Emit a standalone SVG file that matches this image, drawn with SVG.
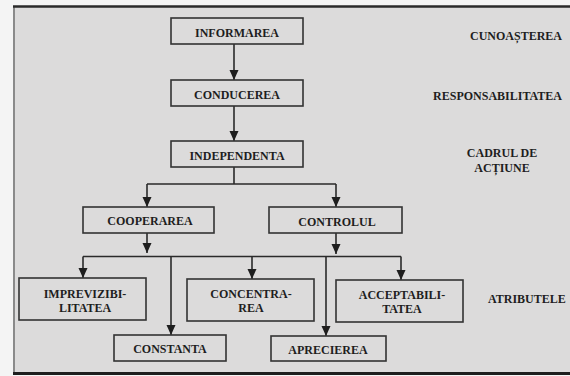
<svg xmlns="http://www.w3.org/2000/svg" width="570" height="376" viewBox="0 0 570 376">
<style>
.box{fill:none;stroke:#333;stroke-width:1.6}
.t{font-family:"Liberation Serif","Times New Roman",serif;font-weight:bold;font-size:12px;fill:#1e1e1e;text-anchor:middle}
.lbl{font-family:"Liberation Serif","Times New Roman",serif;font-weight:bold;font-size:12px;fill:#1e1e1e}
.c{fill:none;stroke:#2a2a2a;stroke-width:1.6}
</style>
<defs>
<marker id="ah" markerUnits="userSpaceOnUse" markerWidth="10" markerHeight="10" viewBox="0 0 10 10" refX="10" refY="5" orient="auto">
<path d="M0,0.5 L10,5 L0,9.5 Z" fill="#1e1e1e"/>
</marker>
</defs>
<rect x="0" y="0" width="570" height="376" fill="#f4f4f4"/>
<rect x="14" y="7" width="560" height="366" fill="#dcdbdb"/>
<line x1="14" y1="6" x2="14" y2="374" stroke="#8a8a8a" stroke-width="2"/>
<line x1="13" y1="6.5" x2="570" y2="6.5" stroke="#2a2a2a" stroke-width="2.5"/>
<line x1="13" y1="373.5" x2="570" y2="373.5" stroke="#1e1e1e" stroke-width="3"/>

<g id="connectors">
<path class="c" d="M234 44 V80" marker-end="url(#ah)"/>
<path class="c" d="M234 106 V141" marker-end="url(#ah)"/>
<path class="c" d="M234 167 V184 M147 184 H336"/>
<path class="c" d="M147 184 V207" marker-end="url(#ah)"/>
<path class="c" d="M336 184 V207" marker-end="url(#ah)"/>
<path class="c" d="M147 233 V253" marker-end="url(#ah)"/>
<path class="c" d="M336 233 V254" marker-end="url(#ah)"/>
<path class="c" d="M83 256.5 H401"/>
<path class="c" d="M83 256.5 V278" marker-end="url(#ah)"/>
<path class="c" d="M171 256.5 V335" marker-end="url(#ah)"/>
<path class="c" d="M252 256.5 V279" marker-end="url(#ah)"/>
<path class="c" d="M326 256.5 V336" marker-end="url(#ah)"/>
<path class="c" d="M401 256.5 V280" marker-end="url(#ah)"/>
</g>

<g id="informarea"><rect class="box" x="171" y="18" width="132" height="26"/><text class="t" x="237" y="37">INFORMAREA</text></g>
<g id="conducerea"><rect class="box" x="171" y="80" width="132" height="26"/><text class="t" x="237" y="99">CONDUCEREA</text></g>
<g id="independenta"><rect class="box" x="171" y="141" width="132" height="26"/><text class="t" x="237" y="160">INDEPENDENTA</text></g>
<g id="cooperarea"><rect class="box" x="83" y="207" width="131" height="26"/><text class="t" x="150" y="225">COOPERAREA</text></g>
<g id="controlul"><rect class="box" x="269" y="207" width="133" height="26"/><text class="t" x="337" y="226">CONTROLUL</text></g>
<g id="imprevizibilitatea"><rect class="box" x="19" y="278" width="127" height="42"/><text class="t" x="85" y="298">IMPREVIZIBI-</text><text class="t" x="85" y="312">LITATEA</text></g>
<g id="concentrarea"><rect class="box" x="187" y="279" width="127" height="42"/><text class="t" x="251" y="298">CONCENTRA-</text><text class="t" x="251" y="312">REA</text></g>
<g id="acceptabilitatea"><rect class="box" x="336" y="280" width="127" height="42"/><text class="t" x="402" y="299">ACCEPTABILI-</text><text class="t" x="402" y="313">TATEA</text></g>
<g id="constanta"><rect class="box" x="114" y="335" width="112" height="26"/><text class="t" x="170" y="353">CONSTANTA</text></g>
<g id="aprecierea"><rect class="box" x="271" y="336" width="115" height="25"/><text class="t" x="328" y="354">APRECIEREA</text></g>

<g id="labels">
<text class="lbl" x="562" y="40" text-anchor="end">CUNOAȘTEREA</text>
<text class="lbl" x="562" y="100" text-anchor="end">RESPONSABILITATEA</text>
<text class="lbl" x="502" y="157" text-anchor="middle">CADRUL DE</text>
<text class="lbl" x="502" y="172" text-anchor="middle">ACȚIUNE</text>
<text class="lbl" x="488" y="303">ATRIBUTELE</text>
</g>
</svg>
